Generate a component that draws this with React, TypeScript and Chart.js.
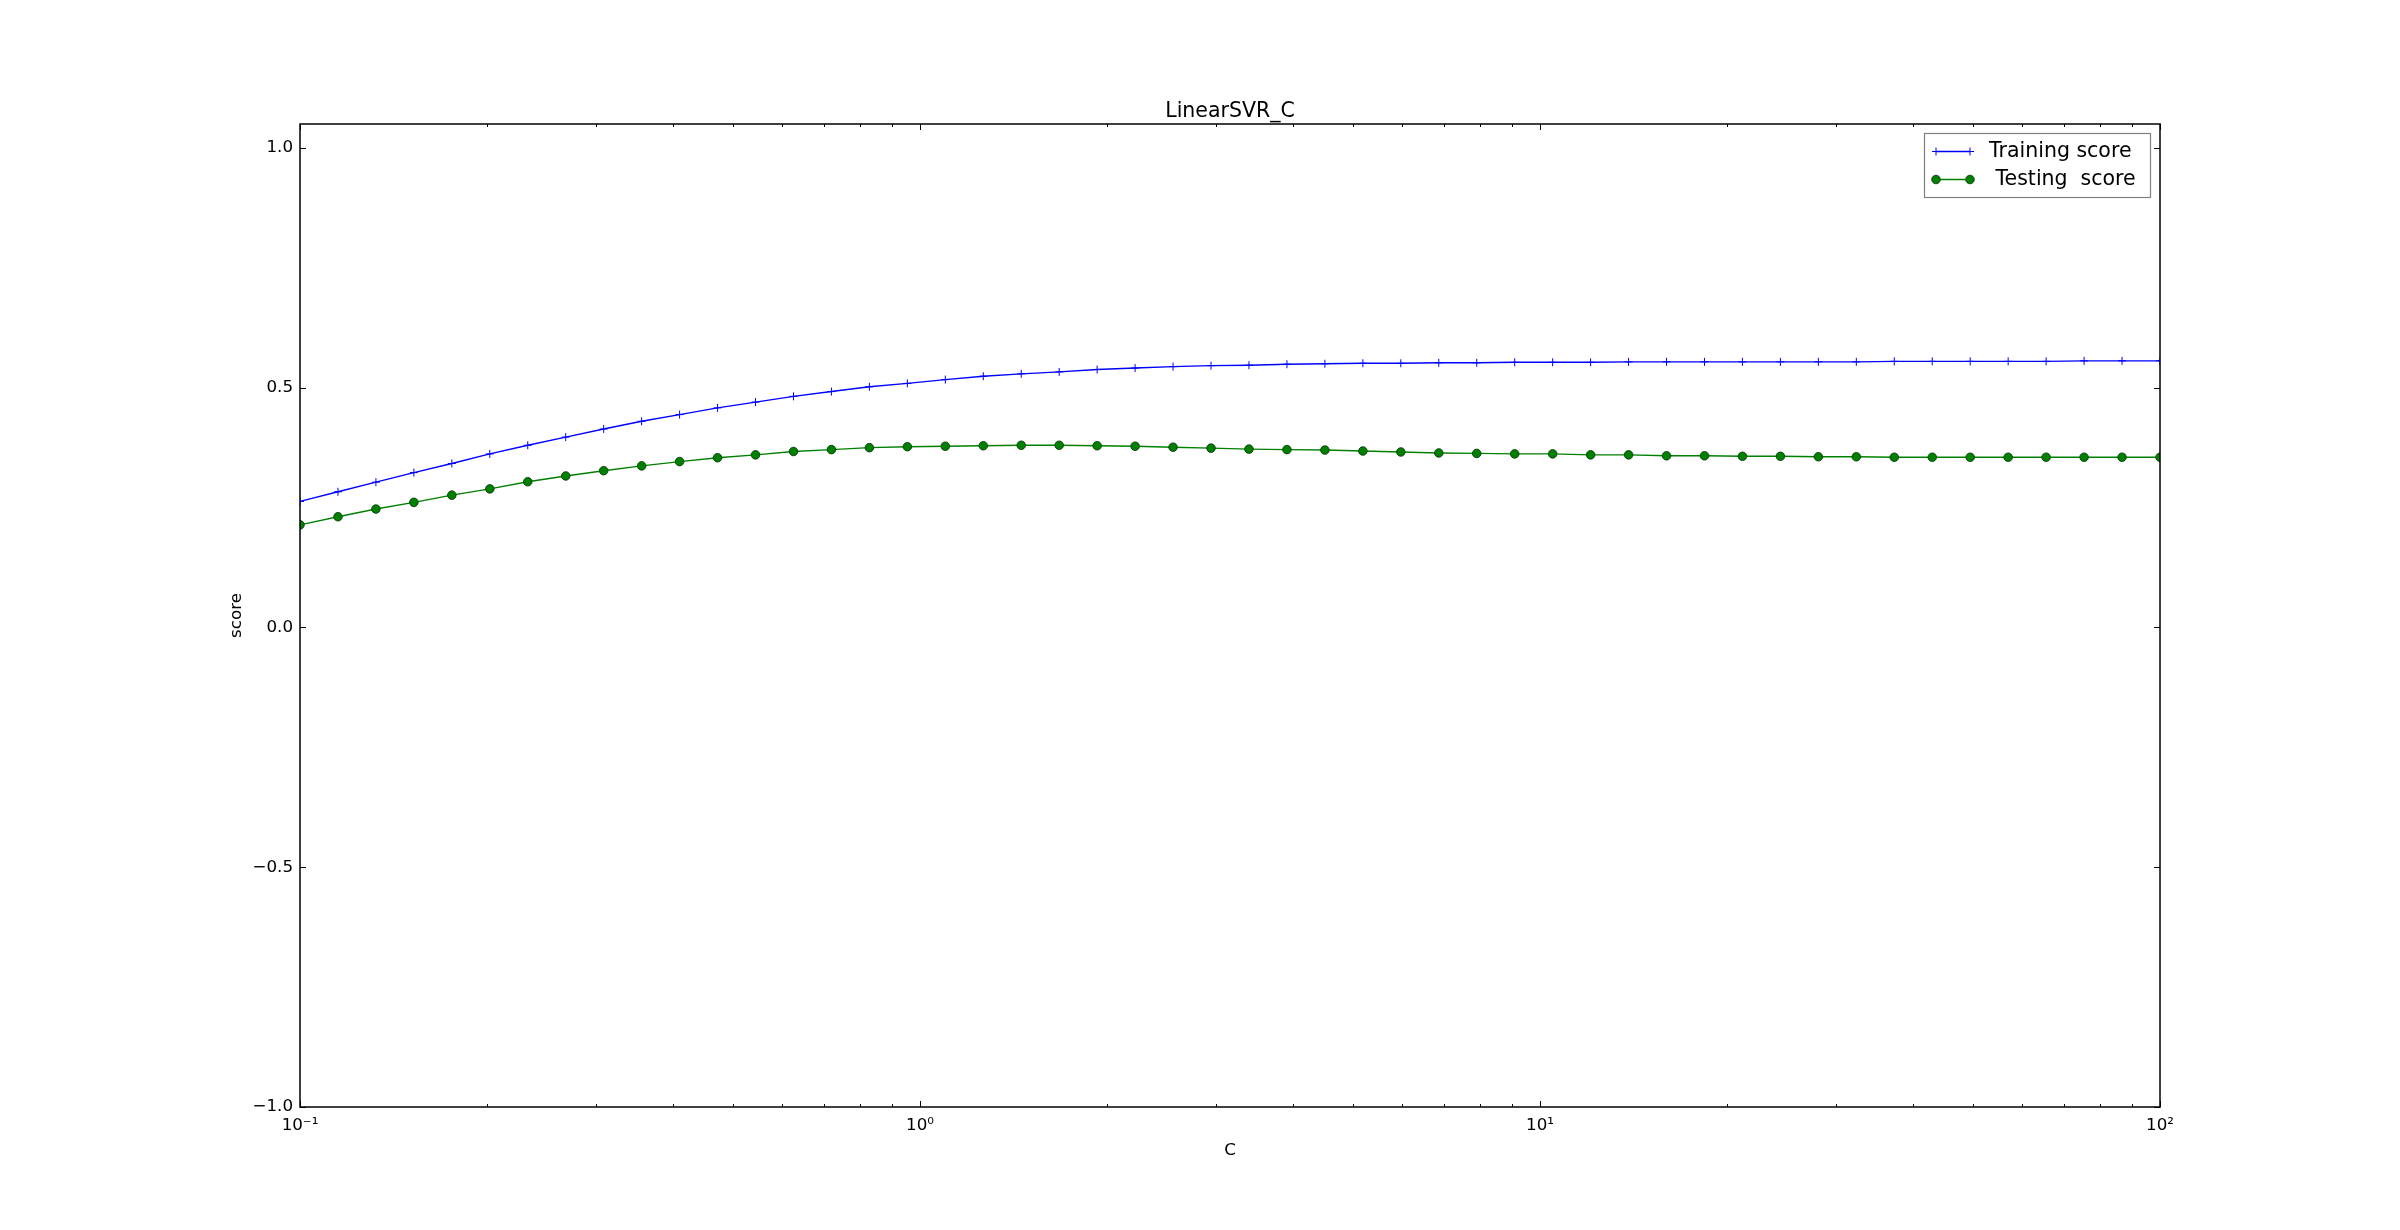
import React, { useEffect, useRef } from 'react';
import { Chart, registerables } from 'chart.js';

Chart.register(...registerables);

// ---- Data ----
const C_VALUES = [
  0.1, 0.11515, 0.13257, 0.15264, 0.17575, 0.20236, 0.233, 0.26827, 0.30888, 0.35565,
  0.40949, 0.47149, 0.54287, 0.62506, 0.71969, 0.82864, 0.9541, 1.09854, 1.26486, 1.45635,
  1.67683, 1.9307, 2.223, 2.55955, 2.94705, 3.39322, 3.90694, 4.49843, 5.17947, 5.96362,
  6.86649, 7.90604, 9.10298, 10.4811, 12.0679, 13.895, 15.9986, 18.4207, 21.2095, 24.4205,
  28.1177, 32.3746, 37.2759, 42.9193, 49.4171, 56.8987, 65.5129, 75.4312, 86.8511, 100,
];

const TRAINING_SCORE = [
  0.263, 0.283, 0.303, 0.323, 0.342, 0.362, 0.38, 0.397, 0.414, 0.43,
  0.444, 0.458, 0.47, 0.482, 0.492, 0.502, 0.509, 0.517, 0.524, 0.529,
  0.533, 0.538, 0.541, 0.544, 0.546, 0.547, 0.549, 0.55, 0.551, 0.551,
  0.552, 0.552, 0.553, 0.553, 0.553, 0.554, 0.554, 0.554, 0.554, 0.554,
  0.554, 0.554, 0.555, 0.555, 0.555, 0.555, 0.555, 0.556, 0.556, 0.556,
];

const TESTING_SCORE = [
  0.214, 0.231, 0.247, 0.261, 0.276, 0.289, 0.304, 0.316, 0.327, 0.337,
  0.346, 0.354, 0.36, 0.367, 0.371, 0.375, 0.377, 0.378, 0.379, 0.38,
  0.38, 0.379, 0.378, 0.376, 0.374, 0.372, 0.371, 0.37, 0.368, 0.366,
  0.364, 0.363, 0.362, 0.362, 0.36, 0.36, 0.358, 0.358, 0.357, 0.357,
  0.356, 0.356, 0.355, 0.355, 0.355, 0.355, 0.355, 0.355, 0.355, 0.355,
];

const SERIES_LABELS = ['Training score', ' Testing  score'];
const TITLE = 'LinearSVR_C';
const X_TITLE = 'C';
const Y_TITLE = 'score';

const X_MAJOR_TICKS = [0.1, 1, 10, 100];
const X_TICK_LABELS = ['10\u207B\u00B9', '10\u2070', '10\u00B9', '10\u00B2'];
const X_MINOR_MULTIPLIERS = [2, 3, 4, 5, 6, 7, 8, 9];
const X_MINOR_DECADES = [0.1, 1, 10];
const Y_TICKS = [-1, -0.5, 0, 0.5, 1];
const Y_TICK_LABELS = ['\u22121.0', '\u22120.5', '0.0', '0.5', '1.0'];

const FONT = 'DejaVu Sans';
const BLUE = '#0000ff';
const GREEN = '#008000';

const mplDecor = {
  id: 'mplDecor',
  afterDatasetsDraw(chart: any) {
    const { ctx, chartArea: a, scales } = chart;
    const xs = scales.x;
    const ys = scales.y;
    ctx.save();
    ctx.strokeStyle = '#000';
    ctx.lineWidth = 1;
    ctx.beginPath();
    const vtick = (v: number, len: number) => {
      const px = Math.round(xs.getPixelForValue(v)) + 0.5;
      ctx.moveTo(px, a.bottom);
      ctx.lineTo(px, a.bottom - len);
      ctx.moveTo(px, a.top);
      ctx.lineTo(px, a.top + len);
    };
    X_MAJOR_TICKS.forEach((v) => vtick(v, 6));
    X_MINOR_DECADES.forEach((d) => X_MINOR_MULTIPLIERS.forEach((m) => vtick(d * m, 3)));
    Y_TICKS.forEach((v) => {
      const py = Math.round(ys.getPixelForValue(v)) + 0.5;
      ctx.moveTo(a.left, py);
      ctx.lineTo(a.left + 6, py);
      ctx.moveTo(a.right, py);
      ctx.lineTo(a.right - 6, py);
    });
    ctx.stroke();

    // axes frame
    ctx.lineWidth = 1.5;
    ctx.strokeRect(a.left, a.top, a.right - a.left, a.bottom - a.top);

    // legend (matplotlib style, upper right)
    const fontSize = 20.5;
    ctx.font = `${fontSize}px "${FONT}"`;
    const ds = chart.data.datasets;
    let maxW = 0;
    ds.forEach((d: any) => {
      maxW = Math.max(maxW, ctx.measureText(d.label).width);
    });
    const boxW = Math.round(65 + maxW + 14);
    const boxH = 64;
    const boxRight = a.right - 10;
    const boxLeft = boxRight - boxW;
    const boxTop = a.top + 9;
    ctx.fillStyle = '#fff';
    ctx.fillRect(boxLeft, boxTop, boxW, boxH);
    ctx.strokeStyle = '#808080';
    ctx.lineWidth = 1.2;
    ctx.strokeRect(boxLeft + 0.5, boxTop + 0.5, boxW, boxH);

    ds.forEach((d: any, i: number) => {
      const ry = boxTop + 18.5 + i * 28;
      const x0 = boxLeft + 12;
      const x1 = boxLeft + 46;
      ctx.strokeStyle = d.borderColor;
      ctx.lineWidth = d.borderWidth;
      ctx.beginPath();
      ctx.moveTo(x0, ry);
      ctx.lineTo(x1, ry);
      ctx.stroke();
      [x0, x1].forEach((mx) => {
        if (d.pointStyle === 'cross') {
          const r = d.pointRadius;
          ctx.strokeStyle = d.pointBorderColor;
          ctx.lineWidth = d.pointBorderWidth;
          ctx.beginPath();
          ctx.moveTo(mx - r, ry);
          ctx.lineTo(mx + r, ry);
          ctx.moveTo(mx, ry - r);
          ctx.lineTo(mx, ry + r);
          ctx.stroke();
        } else {
          ctx.fillStyle = d.pointBackgroundColor;
          ctx.strokeStyle = d.pointBorderColor;
          ctx.lineWidth = d.pointBorderWidth;
          ctx.beginPath();
          ctx.arc(mx, ry, d.pointRadius, 0, Math.PI * 2);
          ctx.fill();
          ctx.stroke();
        }
      });
      ctx.fillStyle = '#000';
      ctx.textAlign = 'left';
      ctx.textBaseline = 'middle';
      ctx.fillText(d.label, boxLeft + 65, ry);
    });
    ctx.restore();
  },
};

export default function App() {
  const canvasRef = useRef<HTMLCanvasElement | null>(null);

  useEffect(() => {
    document.body.style.margin = '0';
    document.body.style.overflow = 'hidden';
    const canvas = canvasRef.current;
    if (!canvas) return;
    Chart.defaults.font.family = FONT;
    const tickFont = { family: FONT, size: 16.7, weight: 'normal' as const };

    const chart = new Chart(canvas, {
      type: 'line',
      data: {
        datasets: [
          {
            label: SERIES_LABELS[0],
            data: C_VALUES.map((c, i) => ({ x: c, y: TRAINING_SCORE[i] })),
            borderColor: BLUE,
            backgroundColor: BLUE,
            borderWidth: 1.4,
            pointStyle: 'cross',
            pointRadius: 4,
            pointBorderWidth: 1,
            pointBorderColor: BLUE,
            pointBackgroundColor: BLUE,
            tension: 0,
            fill: false,
          },
          {
            label: SERIES_LABELS[1],
            data: C_VALUES.map((c, i) => ({ x: c, y: TESTING_SCORE[i] })),
            borderColor: GREEN,
            backgroundColor: GREEN,
            borderWidth: 1.4,
            pointStyle: 'circle',
            pointRadius: 4.3,
            pointBorderWidth: 0.8,
            pointBorderColor: '#003000',
            pointBackgroundColor: GREEN,
            tension: 0,
            fill: false,
          },
        ] as any,
      },
      options: {
        animation: false,
        responsive: false,
        events: [],
        layout: { padding: { left: 220, right: 240, top: 99, bottom: 43 } },
        plugins: {
          legend: { display: false },
          tooltip: { enabled: false },
          title: {
            display: true,
            fullSize: false,
            text: TITLE,
            color: '#000',
            font: { family: FONT, size: 20.5, weight: 'normal' },
            padding: { top: 0, bottom: 0.4 },
          },
        },
        scales: {
          x: {
            type: 'logarithmic',
            min: 0.1,
            max: 100,
            afterBuildTicks: (s: any) => {
              s.ticks = X_MAJOR_TICKS.map((v) => ({ value: v }));
            },
            afterFit: (s: any) => {
              s.height = 80;
            },
            grid: { display: false, drawTicks: false },
            border: { display: false },
            ticks: {
              callback: (_v: any, i: number) => X_TICK_LABELS[i],
              color: '#000',
              font: tickFont,
              padding: 9,
              maxRotation: 0,
              autoSkip: false,
            },
            title: {
              display: true,
              text: X_TITLE,
              color: '#000',
              font: tickFont,
              padding: { top: 0, bottom: 26 },
            },
          },
          y: {
            type: 'linear',
            min: -1,
            max: 1.05,
            afterBuildTicks: (s: any) => {
              s.ticks = Y_TICKS.map((v) => ({ value: v }));
            },
            afterFit: (s: any) => {
              s.width = 80;
            },
            grid: { display: false, drawTicks: false },
            border: { display: false },
            ticks: {
              callback: (_v: any, i: number) => Y_TICK_LABELS[i],
              color: '#000',
              font: tickFont,
              padding: 7,
            },
            title: {
              display: true,
              text: Y_TITLE,
              color: '#000',
              font: tickFont,
              padding: { top: 7, bottom: 0 },
            },
          },
        },
      } as any,
      plugins: [mplDecor],
    });

    return () => {
      chart.destroy();
    };
  }, []);

  return (
    <canvas
      ref={canvasRef}
      width={2400}
      height={1230}
      style={{ display: 'block', width: 2400, height: 1230 }}
    />
  );
}
